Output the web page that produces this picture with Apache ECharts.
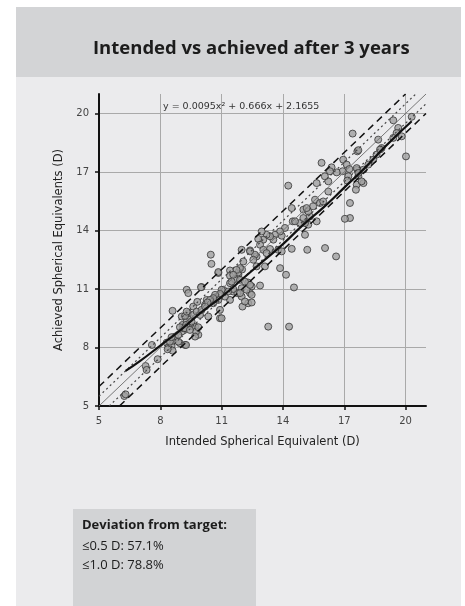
<!DOCTYPE html>
<html>
<head>
<meta charset="utf-8">
<script src="https://cdn.jsdelivr.net/npm/echarts@6/dist/echarts.min.js"></script>
<style>
html,body{margin:0;padding:0;background:#fff;}
#c{width:465px;height:606px;}
</style>
</head>
<body>
<div id="c"></div>
<script>
const titleText = 'Intended vs achieved after 3 years';
const xName = 'Intended Spherical Equivalent (D)';
const yName = 'Achieved Spherical Equivalents (D)';
const equationText = 'y = 0.0095x\u00B2 + 0.666x + 2.1655';
const deviationTitle = 'Deviation from target:';
const deviationLines = ['\u22640.5 D: 57.1%', '\u22641.0 D: 78.8%'];
const tickValues = [5, 8, 11, 14, 17, 20];

// scatter: intended (x) and achieved (y) spherical equivalents
const intended = [6.24,6.3,7.28,7.33,7.59,7.87,8.31,8.39,8.55,8.6,8.63,8.72,8.6,8.47,8.96,8.36,
9.21,9.29,9.37,8.88,9.05,9.09,9.29,9.45,9.37,9.61,9.81,10.02,9.86,9.61,9.05,9.12,9.26,9.7,9.75,9.26,
8.96,8.88,8.55,9.21,9.45,9.53,9.61,9.78,9.94,10.02,9.21,9.29,9.7,9.86,9.99,
10.47,10.5,10.92,10.92,10.84,10.27,10.19,10.59,10.76,11.08,11.41,11.57,11.82,
10.84,11.41,11.41,11.98,12.39,12.71,12.06,11.81,12.0,11.65,11.49,11.9,12.3,12.47,12.39,12.3,12.47,12.02,11.98,11.77,11.57,11.32,11.41,11.16,11.0,10.92,10.84,10.68,10.59,10.43,10.31,10.19,10.35,11.98,12.22,12.14,
12.88,12.39,12.47,11.0,11.9,12.14,
13.86,14.15,14.54,13.28,14.3,
14.26,14.43,14.48,14.1,13.94,13.86,13.61,13.53,13.37,13.2,12.96,13.04,12.79,12.88,13.37,13.77,13.94,14.43,15.19,15.08,15.24,15.08,14.83,14.59,15.0,15.32,15.65,15.0,15.24,15.48,15.57,13.04,13.2,12.63,12.55,12.39,11.9,11.73,11.57,13.12,12.71,
17.41,17.64,16.95,17.12,17.25,16.92,16.63,16.38,16.3,15.89,17.2,17.64,17.69,17.94,17.61,17.57,17.15,16.22,16.05,15.65,15.16,15.81,15.97,16.22,17.28,17.28,17.03,
19.4,20.3,19.64,19.56,19.4,19.81,18.66,20.02,17.69,18.83,18.58,18.42,18.18,17.94,17.61,17.69,17.85,18.75,
16.06,16.6];
const achieved = [5.51,5.6,7.05,6.85,8.13,7.40,8.25,8.01,8.08,7.84,8.35,8.56,9.88,8.3,8.22,7.91,
8.13,10.96,10.79,8.3,8.82,9.16,9.33,9.5,9.76,10.1,10.34,11.1,8.65,9.07,9.59,8.99,9.16,9.07,8.82,8.13,
9.04,8.65,8.53,8.99,8.9,9.33,9.67,9.84,9.67,9.93,9.62,9.84,8.56,9.04,11.09,
12.76,12.29,9.93,9.5,11.82,10.44,10.19,10.27,10.61,10.96,11.3,10.87,11.73,
11.87,11.95,11.68,13.01,12.98,12.67,12.41,11.85,12.0,11.51,11.38,11.47,11.33,11.13,10.79,10.27,10.31,10.10,10.61,10.79,11.0,10.87,10.44,10.61,10.96,10.75,10.44,10.70,10.53,10.44,10.31,10.1,9.59,11.04,10.96,10.36,
11.18,11.21,10.70,9.50,10.79,11.38,
12.07,11.73,11.08,9.07,9.07,
16.3,15.15,14.47,14.13,13.73,13.95,13.78,13.53,13.70,13.78,13.95,13.53,13.57,13.27,13.05,13.01,12.93,13.06,13.01,13.78,14.3,14.38,14.38,14.47,14.64,14.72,14.47,15.07,14.98,15.24,15.58,13.01,12.84,12.76,12.5,12.93,12.07,11.98,11.73,12.16,12.16,
18.97,18.06,17.63,17.38,17.15,17.04,16.98,17.24,17.04,17.47,16.78,17.12,16.78,16.43,16.35,16.09,16.56,16.52,16.78,16.43,15.15,15.41,15.49,16.0,15.41,14.64,14.6,
19.65,19.83,19.26,19.0,18.75,18.83,18.66,17.8,18.12,18.23,17.89,17.63,17.38,17.12,17.2,16.95,16.52,18.15,
13.1,12.67];

// regression curve
const fitX = [6.3, 7, 8, 9, 10, 11, 12, 13, 14, 15, 16, 17, 18, 19, 20.3];
const fitY = [6.8, 7.3, 8.1, 8.9, 9.8, 10.6, 11.5, 12.4, 13.3, 14.3, 15.2, 16.2, 17.2, 18.3, 19.6];

// reference lines (identity and +-0.5 / +-1.0 D bands)
const identityLine = [[5, 5], [21, 21]];
const upperHalf = [[5, 5.5], [20.5, 21]];
const lowerHalf = [[5.5, 5], [21, 20.5]];
const upperOne = [[5, 6], [20, 21]];
const lowerOne = [[6, 5], [21, 20]];

const scatterData = intended.map((x, i) => [x, achieved[i]]);
const fitData = fitX.map((x, i) => [x, fitY[i]]);

const chart = echarts.init(document.getElementById('c'), null, {renderer: 'canvas'});
const axisFont = 'DejaVu Sans, Verdana, sans-serif';

function axisCommon(name, gap) {
  return {
    type: 'value', min: 5, max: 21,
    name: name, nameLocation: 'middle', nameGap: gap,
    nameTextStyle: {fontFamily: axisFont, fontSize: 11.5, color: '#222'},
    axisLine: {show: true, onZero: false, lineStyle: {color: '#111', width: 2}},
    axisTick: {show: true, length: 4, customValues: tickValues, lineStyle: {color: '#111', width: 1.5}},
    axisLabel: {customValues: tickValues, color: '#444', fontSize: 10, fontFamily: axisFont, margin: 10},
    splitLine: {show: true, lineStyle: {color: '#a9a9a9', width: 1}}
  };
}

const lineSeries = (data, style) => ({
  type: 'line', data: data, symbol: 'none', silent: true, animation: false,
  lineStyle: style, z: 3
});

chart.setOption({
  animation: false,
  backgroundColor: '#ffffff',
  graphic: [
    {type: 'rect', shape: {x: 16, y: 77, width: 445, height: 529}, style: {fill: '#ebebed'}, z: -10},
    {type: 'rect', shape: {x: 16, y: 7, width: 445, height: 70}, style: {fill: '#d3d4d6'}, z: -10},
    {type: 'rect', shape: {x: 73, y: 509, width: 183, height: 97}, style: {fill: '#d2d3d5'}, z: -9},
    {type: 'text', left: 93, top: 39, style: {text: titleText, font: 'bold 18.5px "Open Sans", sans-serif', fill: '#1c1c1c'}},
    {type: 'text', left: 163, top: 102, style: {text: equationText, font: '9.5px "DejaVu Sans", sans-serif', fill: '#333'}, z: 10},
    {type: 'text', left: 82, top: 519, style: {text: deviationTitle, font: 'bold 13px "Open Sans", sans-serif', fill: '#1c1c1c'}},
    {type: 'text', left: 82, top: 540, style: {text: deviationLines[0], font: '13px "Open Sans", sans-serif', fill: '#1c1c1c'}},
    {type: 'text', left: 82, top: 559, style: {text: deviationLines[1], font: '13px "Open Sans", sans-serif', fill: '#1c1c1c'}}
  ],
  grid: {left: 99, top: 94, width: 327, height: 312, containLabel: false},
  xAxis: axisCommon(xName, 30),
  yAxis: axisCommon(yName, 34),
  series: [
    {type: 'scatter', data: scatterData, symbol: 'circle', symbolSize: 7, z: 2,
     itemStyle: {color: '#a0a0a0', borderColor: '#333', borderWidth: 1}},
    lineSeries(identityLine, {color: '#777', width: 1, type: 'solid'}),
    lineSeries(upperHalf, {color: '#444', width: 1.2, type: [2, 3]}),
    lineSeries(lowerHalf, {color: '#444', width: 1.2, type: [2, 3]}),
    lineSeries(upperOne, {color: '#111', width: 1.5, type: [7, 5]}),
    lineSeries(lowerOne, {color: '#111', width: 1.5, type: [7, 5]}),
    Object.assign(lineSeries(fitData, {color: '#111', width: 2.2, type: 'solid'}), {smooth: true, z: 4})
  ]
});
</script>
</body>
</html>
